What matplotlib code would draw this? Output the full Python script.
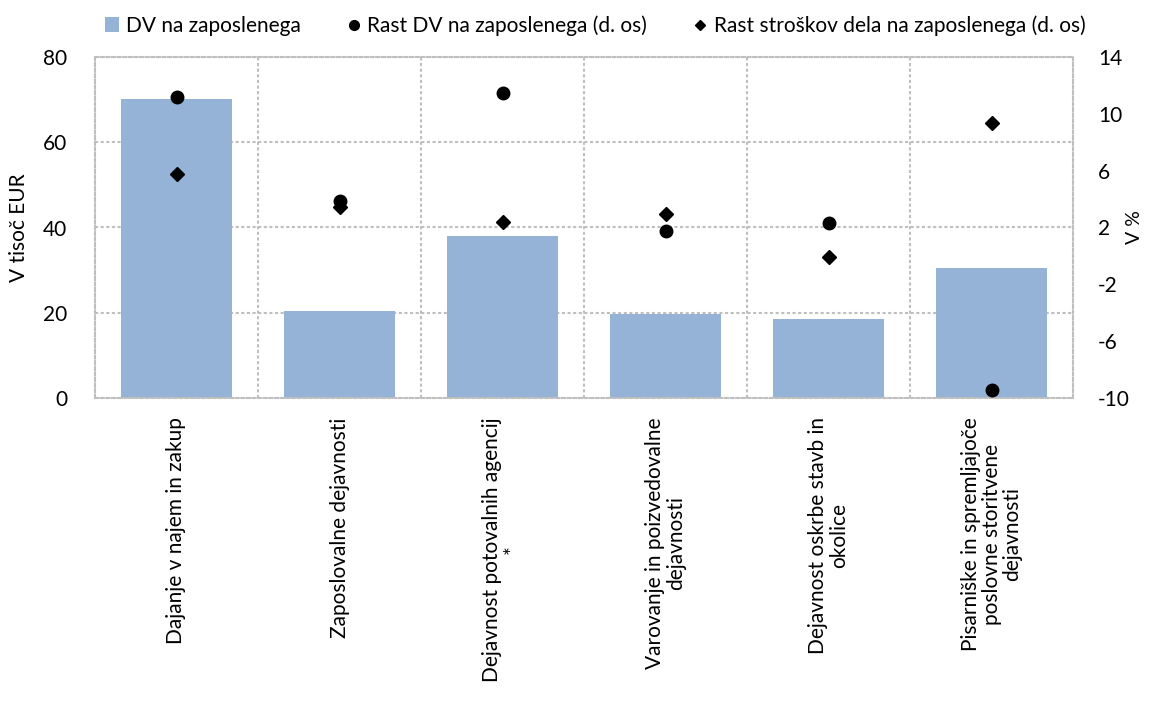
import numpy as np
import matplotlib
matplotlib.use("Agg")
import matplotlib.pyplot as plt
from matplotlib.lines import Line2D
from matplotlib.patches import Patch

categories = [
    "Dajanje v najem in zakup",
    "Zaposlovalne dejavnosti",
    "Dejavnost potovalnih agencij\n*",
    "Varovanje in poizvedovalne\ndejavnosti",
    "Dejavnost oskrbe stavb in\nokolice",
    "Pisarniške in spremljajoče\nposlovne storitvene\ndejavnosti",
]
dv_per_employee = [70.1, 20.4, 38.0, 19.7, 18.5, 30.4]
growth_dv = [11.2, 3.9, 11.5, 1.75, 2.3, -9.45]
growth_labour_cost = [5.8, 3.45, 2.4, 2.95, -0.1, 9.35]
left_ticks = [0, 20, 40, 60, 80]
right_ticks = [-10, -6, -2, 2, 6, 10, 14]

plt.rcParams['font.family'] = ['Lato', 'DejaVu Sans']
plt.rcParams['axes.unicode_minus'] = False
fs = 15

fig = plt.figure(figsize=(11.5, 7.06), dpi=100)
ax = fig.add_axes([95/1150, 1 - 398/706, (1073-95)/1150, (398-57)/706])
x = np.arange(len(categories))
bar_color = '#95B3D7'
grid_color = '#BFBFBF'
dots = (0, (1.5, 1.2))

ax.bar(x, dv_per_employee, width=0.68, color=bar_color, zorder=2)
ax.set_xlim(-0.5, len(categories) - 0.5)
ax.set_ylim(0, 80)
ax.set_yticks(left_ticks)
ax.set_xticks(x)
ax.set_xticklabels(categories, rotation=90, ha='center', va='top',
                   multialignment='center', fontsize=fs, linespacing=1.05)
ax.set_xticks(np.arange(0.5, len(categories) - 0.5, 1), minor=True)
ax.tick_params(axis='x', which='both', length=0, pad=14)
ax.tick_params(axis='y', length=0, pad=20, labelsize=fs)
ax.grid(axis='y', which='major', color=grid_color, linestyle=dots, linewidth=1.5, zorder=0)
ax.grid(axis='x', which='minor', color=grid_color, linestyle=dots, linewidth=1.5, zorder=0)
ax.grid(axis='x', which='major', visible=False)
for s in ax.spines.values():
    s.set_color(grid_color)
    s.set_linestyle(dots)
    s.set_linewidth(1.5)
ax.set_ylabel("V tisoč EUR", fontsize=fs, labelpad=10)

ax2 = ax.twinx()
ax2.set_ylim(-10, 14)
ax2.set_yticks(right_ticks)
ax2.tick_params(axis='y', length=0, pad=18, labelsize=fs)
for s in ax2.spines.values():
    s.set_visible(False)
ax2.plot(x, growth_dv, linestyle='none', marker='o', markersize=9, color='black', zorder=4)
ax2.plot(x, growth_labour_cost, linestyle='none', marker='D', markersize=7.5, color='black', zorder=4)
ax2.set_ylabel("V %", fontsize=fs - 1, labelpad=-3)

handles = [
    Patch(facecolor=bar_color, edgecolor='none'),
    Line2D([], [], linestyle='none', marker='o', markersize=7, color='black'),
    Line2D([], [], linestyle='none', marker='D', markersize=5.5, color='black'),
]
labels = ["DV na zaposlenega", "Rast DV na zaposlenega (d. os)",
          "Rast stroškov dela na zaposlenega (d. os)"]
fig.legend(handles, labels, loc='upper left', bbox_to_anchor=(86/1150, 1.005),
           ncol=3, frameon=False, fontsize=fs, handlelength=0.7, handletextpad=0.3,
           columnspacing=2.2)

fig.savefig("out.png", dpi=100)
